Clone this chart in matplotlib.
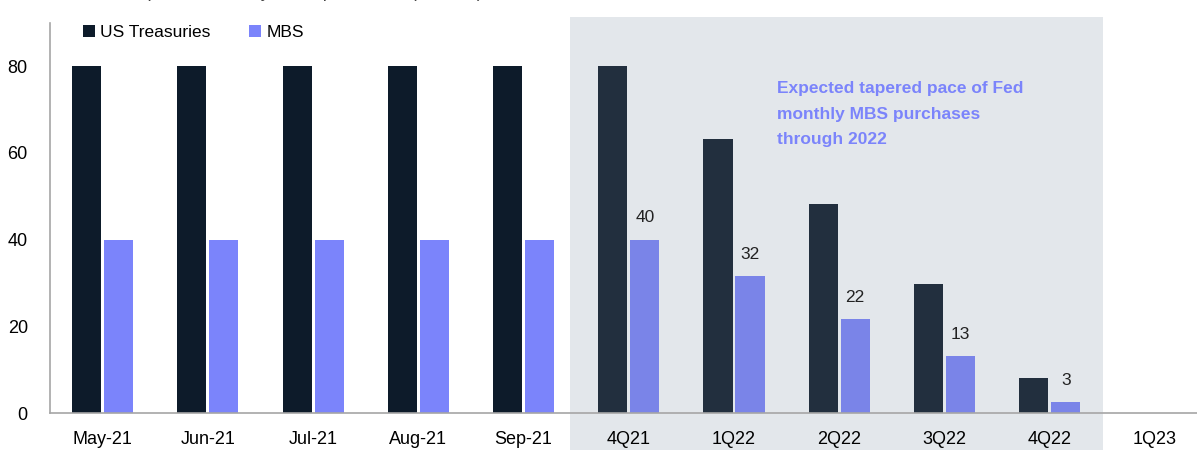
import numpy as np
import matplotlib.pyplot as plt
from matplotlib.patches import Rectangle
from matplotlib.transforms import blended_transform_factory
from matplotlib import font_manager

categories = ['May-21', 'Jun-21', 'Jul-21', 'Aug-21', 'Sep-21',
              '4Q21', '1Q22', '2Q22', '3Q22', '4Q22', '1Q23']
treasuries = [80, 80, 80, 80, 80, 80, 63.2, 48.2, 29.8, 8.1, 0]
mbs = [40, 40, 40, 40, 40, 40, 31.6, 21.6, 13.2, 2.6, 0]
mbs_labels = ['', '', '', '', '', '40', '32', '22', '13', '3', '']
note = 'Expected tapered pace of Fed\nmonthly MBS purchases\nthrough 2022'
title = "Fed's expected monthly asset purchases (US$ bn)"

names = {f.name for f in font_manager.fontManager.ttflist}
fam = 'Liberation Sans Narrow' if 'Liberation Sans Narrow' in names else 'Liberation Sans'
plt.rcParams['font.family'] = [fam, 'DejaVu Sans']

fig = plt.figure(figsize=(11.97, 4.5), dpi=100)
ax = fig.add_axes([0.0418, 0.0822, 0.9582, 0.867])
ax.patch.set_alpha(0)

x = np.arange(len(categories))
shaded = (x >= 5) & (x <= 9)
t_col = np.where(shaded, '#222f3e', '#0d1b2a')
m_col = np.where(shaded, '#7a84e8', '#7b84fb')

w = 0.276
ax.bar(x - 0.152, treasuries, w, color=t_col, zorder=2, label='US Treasuries')
ax.bar(x + 0.152, mbs, w, color=m_col, zorder=2, label='MBS')

# shaded forecast region, runs down behind the tick labels
tr = blended_transform_factory(ax.transData, fig.transFigure)
ax.add_patch(Rectangle((4.44, 0), 9.51 - 4.44, 1 - 17 / 450, transform=tr,
                       facecolor='#e3e7eb', edgecolor='none', clip_on=False, zorder=0.5))

for xi, v, lab in zip(x, mbs, mbs_labels):
    if lab:
        ax.text(xi + 0.152, v + 5, lab, ha='center', va='center', fontsize=12.5, color='#222222')

ax.text(6.41, 76.5, note, ha='left', va='top', fontsize=12.5, fontweight='bold',
        color='#7b84fb', linespacing=1.85)

ax.set_xlim(-0.5, 10.40)
ax.set_ylim(0, 90)
ax.set_yticks([0, 20, 40, 60, 80])
ax.set_xticks(x)
ax.set_xticklabels(categories)
ax.tick_params(axis='y', length=0, pad=16, labelsize=13)
ax.tick_params(axis='x', length=0, pad=13, labelsize=13)
for s in ['top', 'right']:
    ax.spines[s].set_visible(False)
for s in ['left', 'bottom']:
    ax.spines[s].set_color('#a6a6a6')
    ax.spines[s].set_linewidth(1.2)

ax.legend(loc='upper left', bbox_to_anchor=(0.015, 1.035), ncol=2, frameon=False,
          fontsize=12.5, handlelength=0.7, handleheight=0.7, handletextpad=0.3,
          columnspacing=2.2)

# title sits mostly above the crop, as in the source image
fig.text(0.067, 1 + 3 / 450, title, fontsize=13, color='#444444', va='baseline')

fig.savefig('out.png', dpi=100)
